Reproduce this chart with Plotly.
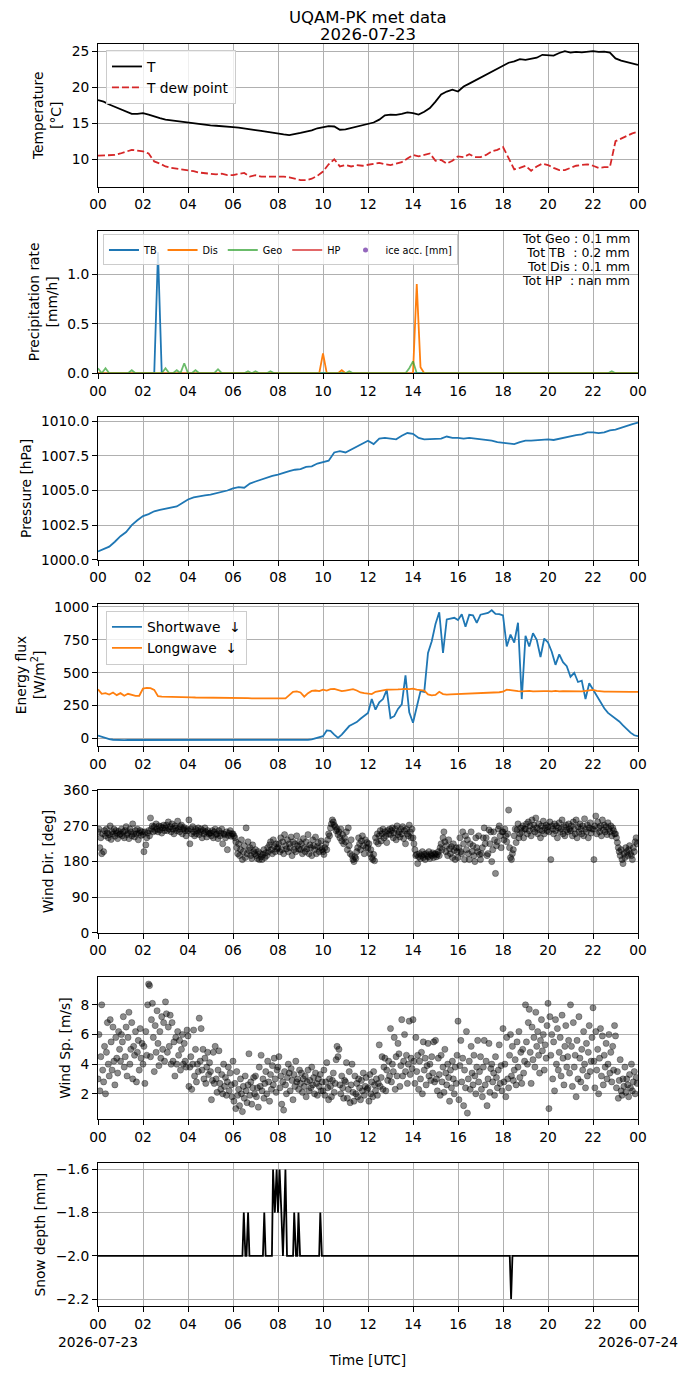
import pandas as pd
import plotly.graph_objects as go
from plotly.subplots import make_subplots

day = pd.Timestamp("2026-07-23")
hour_labels = ["00", "02", "04", "06", "08", "10", "12", "14", "16", "18", "20", "22", "00"]
first_date = "2026-07-23"
last_date = "2026-07-24"
title_lines = ["UQAM-PK met data", "2026-07-23"]

# 15 min samples
temp = [
    18.2, 18.0, 17.6, 17.3,
    17.0, 16.6, 16.3, 16.3,
    16.4, 16.2, 15.9, 15.7,
    15.5, 15.4, 15.25, 15.1,
    15.0, 14.9, 14.85, 14.8,
    14.7, 14.65, 14.55, 14.5,
    14.45, 14.4, 14.25, 14.2,
    14.05, 13.95, 13.8, 13.65,
    13.6, 13.45, 13.35, 13.45,
    13.65, 13.85, 14.0, 14.3,
    14.45, 14.6, 14.55, 14.1,
    14.15, 14.35, 14.55, 14.75,
    14.9, 15.1, 15.5, 16.1,
    16.2, 16.15, 16.3, 16.5,
    16.4, 16.2, 16.6, 17.1,
    18.0, 19.0, 19.4, 19.65,
    19.4, 20.1, 20.5, 20.9,
    21.4, 21.8, 22.2, 22.6,
    22.9, 23.4, 23.6, 23.9,
    23.8, 24.0, 24.1, 24.5,
    24.5, 24.4, 24.75, 25.0,
    24.8, 24.9, 24.85, 24.95,
    25.0, 24.9, 24.95, 24.8,
    24.0, 23.7, 23.5, 23.3,
    23.1,
]
dew = [
    10.5, 10.5, 10.5, 10.6,
    10.8, 11.0, 11.3, 11.2,
    11.1, 10.8, 9.7, 9.4,
    9.0, 8.8, 8.7, 8.6,
    8.5, 8.35, 8.15, 8.1,
    8.0, 7.9, 8.0, 7.8,
    7.8, 7.9, 8.1, 7.6,
    7.8, 7.6, 7.6, 7.7,
    7.7, 7.6, 7.5, 7.3,
    7.1, 7.1, 7.3, 7.7,
    8.3, 9.3, 10.0, 9.0,
    9.2, 9.0, 9.2, 9.1,
    9.2, 9.3, 9.5, 9.3,
    9.2, 9.4, 9.6, 10.1,
    10.6, 10.4, 10.6, 10.8,
    9.8, 9.9, 9.4, 9.8,
    10.4, 10.3, 10.7, 10.3,
    10.3, 10.6, 11.1, 11.3,
    11.7, 10.2, 8.6, 8.8,
    9.1, 8.4, 9.0, 9.4,
    9.2, 8.8, 8.5, 8.5,
    8.8, 9.1, 9.2, 9.3,
    9.1, 8.8, 8.9, 8.9,
    12.5, 12.9, 13.3, 13.6,
    13.8,
]
pressure = [
    1000.6, 1000.75, 1000.95, 1001.3,
    1001.7, 1002.0, 1002.5, 1002.85,
    1003.15, 1003.3, 1003.5, 1003.6,
    1003.7, 1003.75, 1003.85, 1004.1,
    1004.35, 1004.5, 1004.6, 1004.65,
    1004.7, 1004.8, 1004.85, 1005.0,
    1005.15, 1005.25, 1005.2, 1005.5,
    1005.65, 1005.8, 1005.9, 1006.05,
    1006.15, 1006.3, 1006.4, 1006.5,
    1006.55, 1006.7, 1006.75, 1006.95,
    1007.05, 1007.15, 1007.75, 1007.85,
    1007.75, 1007.95, 1008.15, 1008.35,
    1008.6, 1008.35, 1008.75, 1008.8,
    1008.75, 1008.7, 1008.95, 1009.15,
    1009.1, 1008.8, 1008.7, 1008.7,
    1008.7, 1008.75, 1008.9, 1008.8,
    1008.8, 1008.75, 1008.8, 1008.75,
    1008.7, 1008.7, 1008.6, 1008.5,
    1008.45, 1008.4, 1008.35, 1008.5,
    1008.6, 1008.6, 1008.65, 1008.7,
    1008.7, 1008.65, 1008.75, 1008.85,
    1008.9, 1009.0, 1009.05, 1009.2,
    1009.2, 1009.15, 1009.2, 1009.35,
    1009.4, 1009.55, 1009.65, 1009.8,
    1009.9,
]

# 10 min samples
precip_tb = [
    0, 0, 0, 0, 0, 0,
    0, 0, 0, 0, 0, 0,
    0, 0, 0, 0, 1.22, 0,
    0, 0, 0, 0, 0, 0,
    0, 0, 0, 0, 0, 0,
    0, 0, 0, 0, 0, 0,
    0, 0, 0, 0, 0, 0,
    0, 0, 0, 0, 0, 0,
    0, 0, 0, 0, 0, 0,
    0, 0, 0, 0, 0, 0,
    0, 0, 0, 0, 0, 0,
    0, 0, 0, 0, 0, 0,
    0, 0, 0, 0, 0, 0,
    0, 0, 0, 0, 0, 0,
    0, 0, 0, 0, 0, 0,
    0, 0, 0, 0, 0, 0,
    0, 0, 0, 0, 0, 0,
    0, 0, 0, 0, 0, 0,
    0, 0, 0, 0, 0, 0,
    0, 0, 0, 0, 0, 0,
    0, 0, 0, 0, 0, 0,
    0, 0, 0, 0, 0, 0,
    0, 0, 0, 0, 0, 0,
    0, 0, 0, 0, 0, 0,
    0,
]
precip_dis = [
    0, 0, 0, 0, 0, 0,
    0, 0, 0, 0, 0, 0,
    0, 0, 0, 0, 0, 0,
    0, 0, 0, 0, 0, 0,
    0, 0, 0, 0, 0, 0,
    0, 0, 0, 0, 0, 0,
    0, 0, 0, 0, 0, 0,
    0, 0, 0, 0, 0, 0,
    0, 0, 0, 0, 0, 0,
    0, 0, 0, 0, 0, 0,
    0.2, 0, 0, 0, 0, 0.03,
    0, 0, 0, 0, 0, 0,
    0, 0, 0, 0, 0, 0,
    0, 0, 0, 0, 0, 0,
    0, 0.9, 0.06, 0, 0, 0,
    0, 0, 0, 0, 0, 0,
    0, 0, 0, 0, 0, 0,
    0, 0, 0, 0, 0, 0,
    0, 0, 0, 0, 0, 0,
    0, 0, 0, 0, 0, 0,
    0, 0, 0, 0, 0, 0,
    0, 0, 0, 0, 0, 0,
    0, 0, 0, 0, 0, 0,
    0, 0, 0, 0, 0, 0,
    0,
]
precip_geo = [
    0.05, 0, 0.05, 0, 0, 0,
    0, 0, 0, 0.03, 0, 0,
    0, 0, 0, 0, 0, 0,
    0.05, 0, 0, 0.03, 0, 0.1,
    0, 0, 0.03, 0, 0, 0,
    0, 0, 0.04, 0, 0, 0,
    0, 0, 0, 0, 0.02, 0,
    0.02, 0, 0, 0, 0.02, 0,
    0, 0, 0, 0, 0, 0,
    0, 0, 0, 0, 0, 0,
    0, 0, 0, 0, 0, 0,
    0, 0.02, 0, 0, 0, 0,
    0, 0, 0, 0, 0, 0,
    0, 0, 0, 0, 0, 0.05,
    0.12, 0, 0, 0, 0, 0,
    0, 0, 0, 0, 0, 0,
    0, 0, 0, 0, 0, 0,
    0, 0, 0, 0, 0, 0,
    0, 0, 0, 0, 0, 0,
    0, 0, 0, 0, 0, 0,
    0, 0, 0, 0, 0, 0,
    0, 0, 0, 0, 0, 0,
    0, 0, 0, 0, 0, 0.02,
    0, 0, 0, 0, 0, 0,
    0,
]
precip_hp = [None]
ice_acc = [None]
totals = ["Tot Geo : 0.1 mm", "Tot TB  : 0.2 mm", "Tot Dis : 0.1 mm", "Tot HP  : nan mm"]

shortwave = [
    23, 12, 2, -5, -9, -11,
    -12, -12, -11, -11, -11, -11,
    -10, -10, -11, -11, -12, -12,
    -12, -12, -12, -12, -13, -13,
    -13, -13, -13, -13, -13, -13,
    -13, -14, -14, -14, -14, -14,
    -14, -14, -14, -14, -14, -14,
    -14, -14, -14, -14, -13, -13,
    -13, -13, -13, -13, -13, -13,
    -12, -12, -10, -6, 2, 8,
    18, 62, 58, 30, 5, 30,
    60, 95, 110, 125, 150, 170,
    195, 300, 220, 275, 300, 370,
    155, 170, 225, 260, 480, 200,
    120, 240, 360, 355, 650, 740,
    870, 960, 650, 905, 912, 918,
    900, 944, 850, 940, 936, 880,
    941, 948, 955, 975, 948, 945,
    936, 700, 790, 730, 880, 300,
    780, 700, 800, 750, 620, 760,
    730, 660, 560, 640, 580, 550,
    470, 500, 430, 440, 300, 420,
    372, 320, 275, 230, 195, 175,
    150, 130, 100, 70, 45, 25,
    18,
]
longwave = [
    375, 340, 345, 335, 350, 330,
    345, 325, 340, 330, 325, 325,
    380, 385, 383, 370, 322, 318,
    318, 316, 315, 315, 314, 314,
    313, 313, 312, 312, 312, 311,
    311, 310, 310, 309, 309, 308,
    308, 308, 307, 307, 307, 306,
    306, 306, 305, 305, 305, 305,
    305, 305, 305, 330, 355, 358,
    350, 318, 345, 362, 365, 360,
    372, 365, 375, 378, 370, 360,
    365, 372, 375, 365, 350, 345,
    340, 338, 355, 362, 370, 372,
    372, 375, 373, 375, 378, 375,
    380, 372, 368, 365, 335, 328,
    332, 355, 338, 334, 336, 337,
    337, 338, 339, 340, 341, 342,
    343, 344, 346, 348, 350, 352,
    356, 372, 368, 362, 360, 358,
    360, 362, 358, 360, 362, 360,
    360, 358, 362, 358, 360, 360,
    360, 358, 356, 358, 362, 365,
    370, 362, 358, 356, 356, 355,
    355, 355, 355, 355, 355, 355,
    355,
]

# 2.5 min samples, one row per hour
wind_dir = [
    255, 262, 215, 240, 200, 250, 205, 258, 245, 262, 252, 240, 248, 270, 236, 255, 250, 262, 244, 258, 252, 238, 256, 248,
    250, 262, 245, 255, 240, 258, 268, 248, 252, 238, 262, 255, 245, 275, 250, 242, 258, 250, 262, 235, 252, 258, 246, 255,
    248, 205, 255, 222, 240, 252, 258, 245, 290, 262, 270, 255, 268, 258, 275, 262, 255, 270, 260, 268, 252, 265, 272, 258,
    265, 272, 258, 280, 262, 268, 255, 275, 262, 250, 270, 265, 258, 282, 262, 255, 268, 272, 250, 262, 266, 258, 245, 262,
    258, 285, 225, 262, 250, 268, 255, 245, 262, 250, 258, 265, 248, 255, 262, 240, 258, 250, 265, 255, 242, 258, 250, 252,
    252, 245, 258, 240, 255, 262, 248, 250, 238, 258, 245, 252, 262, 225, 250, 248, 240, 255, 210, 246, 252, 258, 244, 250,
    250, 245, 240, 230, 215, 200, 225, 195, 210, 235, 185, 205, 220, 190, 265, 200, 230, 208, 215, 195, 188, 222, 205, 200,
    210, 195, 188, 205, 185, 200, 192, 185, 198, 210, 190, 202, 195, 215, 205, 222, 230, 210, 200, 235, 218, 205, 225, 212,
    215, 225, 205, 240, 210, 230, 200, 248, 220, 212, 235, 205, 225, 215, 242, 195, 230, 210, 225, 205, 245, 220, 212, 230,
    210, 225, 200, 238, 215, 205, 230, 212, 248, 200, 222, 215, 195, 235, 220, 210, 242, 200, 218, 228, 205, 215, 232, 210,
    205, 198, 215, 225, 210, 235, 250, 245, 265, 275, 285, 280, 272, 268, 258, 262, 248, 255, 240, 262, 232, 248, 225, 240,
    230, 255, 210, 265, 220, 200, 235, 195, 185, 180, 192, 188, 205, 215, 240, 225, 210, 232, 245, 220, 200, 235, 215, 228,
    215, 225, 200, 210, 190, 185, 198, 182, 240, 230, 250, 225, 245, 258, 232, 250, 262, 240, 255, 245, 228, 258, 250, 262,
    248, 258, 265, 240, 252, 262, 235, 270, 248, 255, 242, 262, 250, 268, 238, 258, 225, 262, 250, 245, 272, 255, 240, 262,
    240, 225, 210, 195, 198, 175, 192, 200, 188, 195, 205, 190, 198, 185, 200, 195, 192, 205, 188, 198, 195, 202, 190, 198,
    200, 192, 198, 205, 195, 215, 225, 210, 240, 255, 230, 205, 220, 195, 235, 212, 200, 218, 190, 225, 208, 185, 215, 205,
    190, 215, 240, 205, 200, 255, 225, 185, 245, 210, 235, 200, 185, 225, 255, 205, 220, 195, 180, 240, 215, 205, 245, 198,
    185, 200, 215, 240, 265, 225, 240, 195, 200, 260, 225, 255, 180, 210, 255, 235, 150, 220, 230, 262, 270, 245, 215, 255,
    255, 235, 262, 245, 230, 250, 310, 215, 190, 185, 200, 210, 245, 262, 228, 260, 275, 240, 250, 265, 255, 270, 240, 262,
    262, 275, 250, 280, 258, 270, 245, 285, 262, 272, 255, 290, 265, 250, 275, 260, 240, 270, 258, 282, 250, 265, 272, 258,
    268, 255, 280, 185, 270, 262, 250, 275, 258, 270, 240, 265, 278, 255, 262, 285, 250, 268, 245, 272, 260, 255, 275, 262,
    258, 270, 245, 280, 262, 250, 285, 240, 268, 255, 275, 262, 250, 270, 245, 288, 262, 255, 272, 240, 265, 278, 252, 262,
    262, 185, 270, 295, 250, 280, 265, 255, 270, 245, 285, 260, 272, 255, 268, 248, 278, 262, 255, 270, 245, 265, 258, 250,
    250, 240, 228, 215, 205, 195, 210, 185, 175, 200, 190, 215, 205, 195, 210, 220, 200, 195, 185, 215, 205, 230, 240, 225,
]
wind_speed = [
    3.0, 6.0, 2.2, 4.5, 8.0, 3.6, 2.8, 5.2, 2.0, 4.8, 6.8, 4.0, 3.2, 7.0, 5.5, 3.6, 6.5, 4.2, 2.6, 5.8, 4.4, 3.4, 6.2, 5.0,
    4.2, 6.0, 5.5, 7.2, 3.8, 4.5, 6.5, 3.2, 5.8, 7.5, 4.0, 5.0, 6.8, 3.0, 5.2, 4.6, 6.2, 2.8, 4.8, 5.6, 3.6, 6.4, 4.4, 5.4,
    4.0, 5.2, 2.7, 6.2, 4.6, 8.0, 9.4, 9.3, 4.5, 7.0, 8.1, 5.8, 3.5, 6.6, 4.8, 7.6, 5.4, 3.9, 6.2, 4.4, 7.2, 5.0, 6.8, 4.2,
    8.2, 7.4, 4.8, 6.5, 5.2, 7.3, 4.0, 6.8, 4.2, 5.5, 3.2, 5.8, 4.0, 6.2, 4.6, 5.6, 3.6, 5.0, 6.0, 4.0, 5.4, 4.2, 3.8, 6.3,
    5.9, 2.5, 3.8, 4.5, 2.3, 4.0, 6.3, 3.2, 5.0, 2.8, 4.0, 3.5, 7.1, 4.2, 6.4, 3.6, 5.0, 3.0, 4.4, 2.7, 3.8, 4.8, 3.3, 4.1,
    3.5, 1.6, 2.9, 4.8, 2.7, 5.2, 3.0, 2.1, 3.6, 4.9, 2.7, 2.3, 3.3, 2.0, 4.0, 2.5, 3.1, 1.9, 2.8, 3.8, 2.2, 3.4, 2.6, 1.8,
    4.2, 1.5, 2.7, 1.0, 3.5, 1.9, 2.3, 1.2, 3.0, 2.0, 0.8, 2.5, 1.7, 3.2, 2.2, 1.4, 2.6, 4.7, 1.9, 2.8, 1.3, 2.4, 3.1, 2.0,
    3.2, 1.8, 2.4, 1.1, 3.8, 2.5, 4.6, 2.2, 3.0, 1.7, 2.7, 3.5, 2.0, 4.2, 2.8, 1.5, 3.3, 2.3, 3.9, 2.6, 4.4, 3.0, 2.1, 3.6,
    3.8, 4.5, 2.4, 3.2, 1.3, 2.8, 0.9, 3.5, 2.6, 2.0, 3.1, 4.0, 3.4, 2.2, 3.7, 2.9, 1.6, 3.3, 2.5, 4.2, 2.8, 3.0, 2.3, 3.6,
    2.7, 3.4, 2.1, 3.0, 2.5, 3.2, 1.8, 2.8, 3.6, 2.2, 2.9, 2.4, 3.8, 2.6, 3.1, 2.0, 3.4, 2.7, 1.9, 3.0, 2.5, 3.3, 2.2, 2.8,
    2.2, 3.6, 1.9, 2.8, 4.1, 2.4, 1.6, 3.0, 2.5, 1.8, 2.9, 3.4, 2.1, 2.7, 4.3, 5.2, 4.5, 5.0, 2.6, 2.0, 3.2, 2.4, 1.7, 2.9,
    2.8, 4.1, 1.7, 2.3, 3.5, 1.4, 2.6, 4.0, 2.1, 1.5, 3.2, 2.0, 2.7, 1.8, 3.0, 2.4, 1.6, 2.9, 2.2, 3.4, 1.9, 2.5, 3.1, 2.3,
    2.4, 1.5, 3.3, 2.0, 2.8, 1.8, 3.5, 2.6, 2.2, 3.0, 1.9, 2.7, 5.3, 2.5, 3.1, 4.5, 2.3, 3.8, 4.4, 2.2, 3.6, 2.9, 4.2, 3.2,
    6.4, 2.8, 4.0, 3.5, 5.8, 2.3, 4.5, 3.2, 5.4, 4.7, 2.5, 3.9, 7.0, 3.2, 4.2, 6.0, 3.5, 4.6, 2.7, 4.0, 6.9, 3.3, 4.4, 3.7,
    7.0, 4.2, 2.7, 5.8, 3.5, 4.6, 2.3, 4.2, 3.0, 4.8, 2.0, 5.5, 3.6, 4.4, 2.6, 3.9, 5.4, 3.2, 4.0, 2.9, 4.5, 3.4, 5.5, 2.8,
    5.6, 3.0, 2.2, 4.4, 3.3, 1.9, 4.6, 2.8, 3.8, 2.1, 5.0, 3.4, 2.6, 4.0, 3.1, 1.5, 3.6, 2.4, 4.2, 3.0, 2.0, 3.8, 2.7, 4.6,
    6.9, 1.6, 3.9, 5.6, 2.8, 4.4, 1.2, 3.6, 2.4, 6.2, 0.7, 3.0, 4.2, 2.3, 5.2, 3.4, 2.6, 4.6, 3.2, 2.0, 3.8, 5.6, 2.8, 3.5,
    4.5, 2.3, 1.8, 3.8, 5.6, 2.6, 4.2, 1.2, 3.0, 5.4, 2.1, 3.7, 4.0, 2.8, 3.4, 1.9, 4.5, 3.1, 2.4, 3.6, 5.3, 2.7, 3.9, 2.2,
    6.4, 2.8, 4.0, 1.8, 5.8, 3.0, 2.4, 4.6, 6.0, 3.2, 5.2, 2.9, 3.6, 4.3, 2.6, 5.5, 3.8, 6.2, 3.1, 4.8, 2.7, 5.0, 3.4, 4.2,
    8.0, 5.5, 4.0, 6.8, 7.7, 4.8, 2.7, 6.5, 4.3, 5.8, 3.8, 7.5, 5.2, 6.2, 4.6, 3.4, 5.6, 7.0, 4.9, 6.0, 3.6, 5.3, 4.4, 6.6,
    8.1, 1.0, 7.2, 4.6, 6.0, 3.0, 5.5, 2.2, 7.0, 4.0, 6.4, 3.6, 4.8, 5.8, 3.2, 7.3, 4.4, 2.6, 5.2, 6.6, 3.8, 4.5, 5.6, 3.4,
    8.0, 5.2, 2.5, 6.8, 3.8, 4.6, 1.8, 5.6, 3.0, 7.2, 4.4, 2.8, 5.0, 3.6, 6.2, 4.0, 2.4, 5.4, 3.2, 4.8, 6.6, 3.5, 4.2, 5.8,
    7.8, 4.2, 2.4, 6.2, 3.6, 5.0, 2.0, 4.4, 6.4, 3.2, 5.9, 2.6, 4.6, 3.8, 5.4, 3.0, 4.0, 6.0, 3.4, 4.8, 2.8, 5.2, 3.6, 6.6,
    5.9, 2.4, 3.5, 1.7, 2.9, 4.3, 2.2, 1.9, 3.0, 2.5, 3.8, 2.1, 3.0, 2.6, 1.8, 3.3, 2.4, 4.0, 2.2, 2.8, 3.5, 2.0, 3.1, 2.7,
]

# snow depth sensor (hours of change points)
snow_hours = [0.0, 6.42, 6.48, 6.55, 6.60, 6.67, 6.73, 7.33, 7.39, 7.45, 7.73, 7.78,
              7.86, 7.94, 8.00, 8.07, 8.15, 8.22, 8.28, 8.33, 8.40, 8.67, 8.72, 8.80,
              8.86, 8.91, 8.98, 9.83, 9.88, 9.95, 18.30, 18.36, 18.42, 24.0]
snow_depth = [-2.0, -2.0, -1.8, -2.0, -2.0, -1.8, -2.0, -2.0, -1.8, -2.0, -2.0, -1.6,
              -1.8, -1.6, -1.8, -1.6, -1.8, -2.0, -1.8, -1.6, -2.0, -2.0, -1.8, -2.0,
              -2.0, -1.8, -2.0, -2.0, -1.8, -2.0, -2.0, -2.2, -2.0, -2.0]

t15 = pd.date_range(day, periods=len(temp), freq="15min")
t10 = pd.date_range(day, periods=len(shortwave), freq="10min")
t_dir = pd.date_range(day, periods=len(wind_dir), freq="150s")
t_spd = pd.date_range(day, periods=len(wind_speed), freq="150s")
t_snow = day + pd.to_timedelta(snow_hours, unit="h")

FONT = "DejaVu Sans"
# page body adds an 8 px margin, so the figure is 8 px smaller than the window
W, H = 682, 1369
ML, MR, MT, MB = 90, 50, 36, 69
PH = H - MT - MB
PW = W - ML - MR

fig = make_subplots(rows=7, cols=1, vertical_spacing=44 / PH)

# 1 temperature
fig.add_trace(go.Scatter(x=t15, y=temp, name="T", mode="lines",
                         line=dict(color="black", width=1.8), legend="legend"), 1, 1)
fig.add_trace(go.Scatter(x=t15, y=dew, name="T dew point", mode="lines",
                         line=dict(color="#d62728", width=1.8, dash="7px,3px"), legend="legend"), 1, 1)

# 2 precipitation
fig.add_trace(go.Scatter(x=t10, y=precip_tb, name="TB", mode="lines",
                         line=dict(color="#1f77b4", width=1.8), legend="legend2"), 2, 1)
fig.add_trace(go.Scatter(x=t10, y=precip_dis, name="Dis", mode="lines",
                         line=dict(color="#ff7f0e", width=1.8), legend="legend2"), 2, 1)
fig.add_trace(go.Scatter(x=t10, y=precip_geo, name="Geo", mode="lines",
                         line=dict(color="rgba(44,160,44,0.7)", width=1.8), legend="legend2"), 2, 1)
fig.add_trace(go.Scatter(x=t10[:1], y=precip_hp, name="HP", mode="lines",
                         line=dict(color="rgba(214,39,40,0.7)", width=1.8), legend="legend2"), 2, 1)
fig.add_trace(go.Scatter(x=t10[:1], y=ice_acc, name="ice acc. [mm]", mode="markers",
                         marker=dict(color="#9467bd", size=5), legend="legend2"), 2, 1)

# 3 pressure
fig.add_trace(go.Scatter(x=t15, y=pressure, mode="lines", showlegend=False,
                         line=dict(color="#1f77b4", width=1.8)), 3, 1)

# 4 radiation
fig.add_trace(go.Scatter(x=t10, y=shortwave, name="Shortwave  \u2193", mode="lines",
                         line=dict(color="#1f77b4", width=1.8), legend="legend3"), 4, 1)
fig.add_trace(go.Scatter(x=t10, y=longwave, name="Longwave  \u2193", mode="lines",
                         line=dict(color="#ff7f0e", width=1.8), legend="legend3"), 4, 1)

# 5, 6 wind
dots = dict(color="rgba(0,0,0,0.45)", size=6.2, line=dict(width=0.6, color="rgba(0,0,0,0.5)"))
fig.add_trace(go.Scatter(x=t_dir, y=wind_dir, mode="markers", showlegend=False, marker=dots), 5, 1)
fig.add_trace(go.Scatter(x=t_spd, y=wind_speed, mode="markers", showlegend=False, marker=dots), 6, 1)

# 7 snow
fig.add_trace(go.Scatter(x=t_snow, y=snow_depth, mode="lines", showlegend=False,
                         line=dict(color="black", width=1.8)), 7, 1)

tickvals = pd.date_range(day, periods=13, freq="2h")
bottom_text = list(hour_labels)
bottom_text[0] = hour_labels[0] + "<br>" + first_date
bottom_text[-1] = hour_labels[-1] + "<br>" + last_date

axis_style = dict(showline=True, mirror=True, linecolor="black", linewidth=1,
                  ticks="outside", ticklen=5, tickcolor="black", tickwidth=1,
                  showgrid=True, gridcolor="#b0b0b0", gridwidth=0.8, zeroline=False,
                  tickfont=dict(size=13.8, color="black"))
for i in range(1, 8):
    fig.update_xaxes(axis_style, row=i, col=1, type="date", tickangle=0,
                     range=[tickvals[0], tickvals[-1]], tickvals=tickvals,
                     ticktext=bottom_text if i == 7 else hour_labels)
    fig.update_yaxes(axis_style, row=i, col=1, title_standoff=6,
                     title_font=dict(size=13.8, color="black"))

fig.update_xaxes(title_text="Time [UTC]", title_standoff=6, row=7, col=1,
                 title_font=dict(size=13.8, color="black"))

fig.update_yaxes(row=1, col=1, range=[6.2, 26.0], dtick=5, title_text="Temperature<br>[\u00b0C]")
fig.update_yaxes(row=2, col=1, range=[0, 1.44], dtick=0.5, tickformat=".1f",
                 title_text="Precipitation rate<br>[mm/h]")
fig.update_yaxes(row=3, col=1, range=[1000, 1010.3], dtick=2.5, tickformat=".1f",
                 title_text="Pressure [hPa]")
fig.update_yaxes(row=4, col=1, range=[-59, 1025], dtick=250,
                 title_text="Energy flux<br>[W/m<sup>2</sup>]")
fig.update_yaxes(row=5, col=1, range=[0, 360], dtick=90, title_text="Wind Dir. [deg]")
fig.update_yaxes(row=6, col=1, range=[0.27, 9.89], dtick=2, title_text="Wind Sp. [m/s]")
fig.update_yaxes(row=7, col=1, range=[-2.232, -1.572], dtick=0.2, tickformat=".1f",
                 title_text="Snow depth [mm]")

# figure title, one annotation per line
for k, line in enumerate(title_lines):
    fig.add_annotation(text=line, xref="paper", yref="paper",
                       x=0.5, y=1 + (MT - 9.5 - 16.6 * k) / PH, xanchor="center", yanchor="middle",
                       showarrow=False, font=dict(size=16.5, color="black"))

# totals text in the precipitation panel
for k, line in enumerate(totals):
    fig.add_annotation(text=line, xref="x2 domain", yref="y2 domain",
                       x=1 - 6 / PW, y=1 - (8.3 + 14 * k) / 142.8,
                       xanchor="right", yanchor="middle", showarrow=False,
                       font=dict(size=12.5, color="black"))

legend_box = dict(bgcolor="rgba(255,255,255,0.8)", bordercolor="#cccccc", borderwidth=1,
                  xanchor="left", yanchor="top", font=dict(size=13.8, color="black"))
fig.update_layout(
    width=W, height=H,
    margin=dict(l=ML, r=MR, t=MT, b=MB),
    paper_bgcolor="white", plot_bgcolor="white",
    font=dict(family=FONT, color="black"),
    legend=dict(legend_box, x=8 / PW, y=1 - 6 / PH),
    legend2=dict(legend_box, x=5 / PW, y=1 - (186.8 + 4) / PH, orientation="h",
                 font=dict(size=9.7, color="black"), tracegroupgap=0),
    legend3=dict(legend_box, x=8 / PW, y=1 - (3 * 186.8 + 7) / PH),
)

fig.write_html("out.html")
